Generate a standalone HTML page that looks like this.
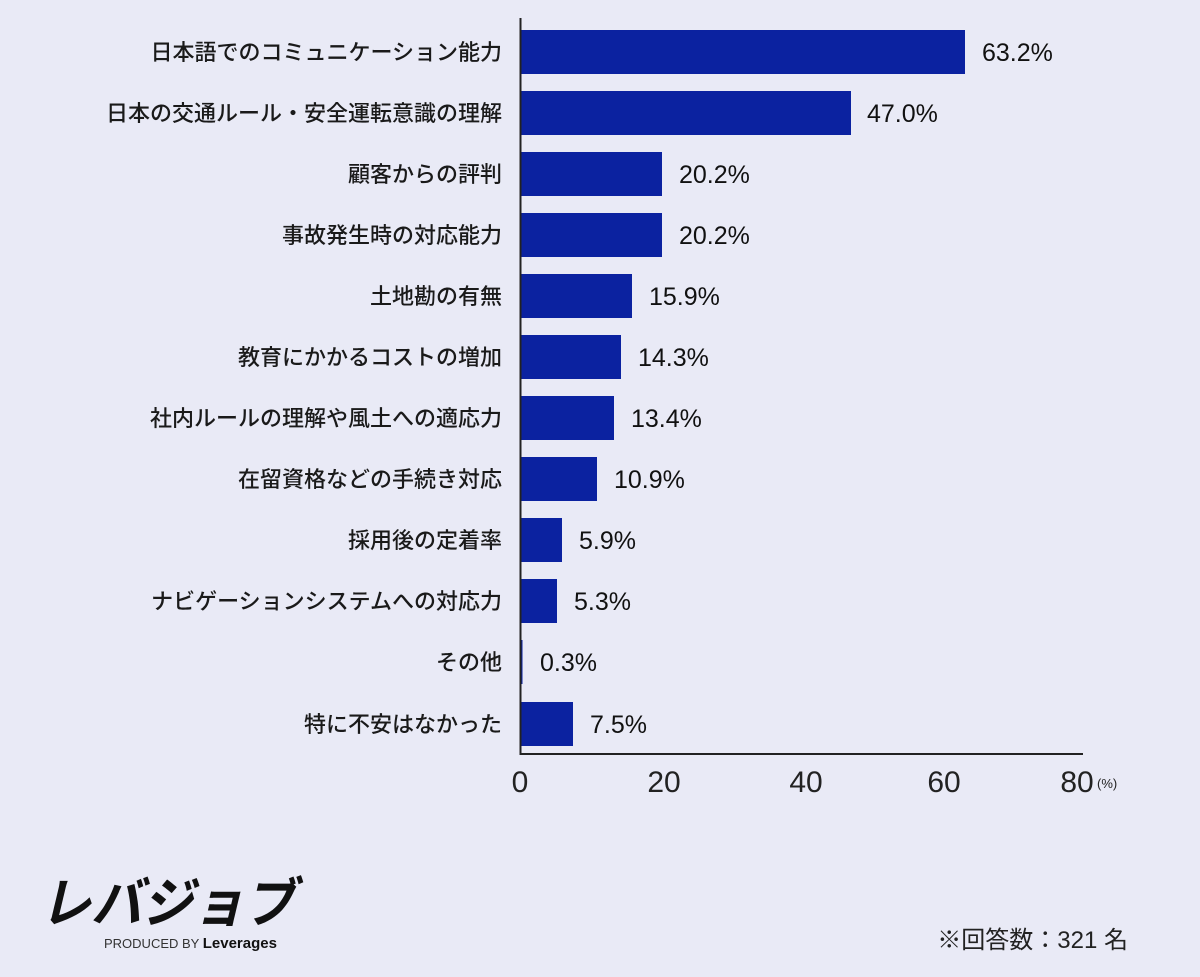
<!DOCTYPE html>
<html><head><meta charset="utf-8"><style>
body{margin:0;background:#e9eaf6;}
svg{display:block;font-family:"Liberation Sans","Noto Sans CJK JP",sans-serif;}
</style></head><body>
<svg width="1200" height="977" viewBox="0 0 1200 977">
<rect width="1200" height="977" fill="#e9eaf6"/>
<g fill="#0b22a0">
<rect x="520" y="30" width="445" height="44"/>
<rect x="520" y="91" width="331" height="44"/>
<rect x="520" y="152" width="142" height="44"/>
<rect x="520" y="213" width="142" height="44"/>
<rect x="520" y="274" width="112" height="44"/>
<rect x="520" y="335" width="101" height="44"/>
<rect x="520" y="396" width="94" height="44"/>
<rect x="520" y="457" width="77" height="44"/>
<rect x="520" y="518" width="42" height="44"/>
<rect x="520" y="579" width="37" height="44"/>
<rect x="520" y="640" width="2.5" height="44"/>
<rect x="520" y="702" width="53" height="44"/>
</g>
<line x1="520.5" y1="18" x2="520.5" y2="754" stroke="#222" stroke-width="2"/>
<line x1="519.5" y1="754" x2="1083" y2="754" stroke="#222" stroke-width="2"/>
<g font-size="22" fill="#1a1a1a" text-anchor="end" font-weight="500">
<text x="502" y="60">日本語でのコミュニケーション能力</text>
<text x="502" y="121">日本の交通ルール・安全運転意識の理解</text>
<text x="502" y="182">顧客からの評判</text>
<text x="502" y="243">事故発生時の対応能力</text>
<text x="502" y="304">土地勘の有無</text>
<text x="502" y="365">教育にかかるコストの増加</text>
<text x="502" y="426">社内ルールの理解や風土への適応力</text>
<text x="502" y="487">在留資格などの手続き対応</text>
<text x="502" y="548">採用後の定着率</text>
<text x="502" y="609">ナビゲーションシステムへの対応力</text>
<text x="502" y="670">その他</text>
<text x="502" y="732">特に不安はなかった</text>
</g>
<g font-size="25" fill="#111">
<text x="982" y="61">63.2%</text>
<text x="867" y="122">47.0%</text>
<text x="679" y="183">20.2%</text>
<text x="679" y="244">20.2%</text>
<text x="649" y="305">15.9%</text>
<text x="638" y="366">14.3%</text>
<text x="631" y="427">13.4%</text>
<text x="614" y="488">10.9%</text>
<text x="579" y="549">5.9%</text>
<text x="574" y="610">5.3%</text>
<text x="540" y="671">0.3%</text>
<text x="590" y="733">7.5%</text>
</g>
<g font-size="30" fill="#222" text-anchor="middle">
<text x="520" y="792">0</text>
<text x="664" y="792">20</text>
<text x="806" y="792">40</text>
<text x="944" y="792">60</text>
<text x="1077" y="792">80</text>
</g>
<text x="1097" y="788" font-size="13" fill="#222">(%)</text>
<text x="40" y="922" font-size="54" font-weight="bold" font-style="italic" fill="#111" textLength="255" lengthAdjust="spacingAndGlyphs">レバジョブ</text>
<text x="104" y="948" font-size="13" fill="#333">PRODUCED BY <tspan font-weight="bold" font-size="15" fill="#111">Leverages</tspan></text>
<text x="1128" y="948" font-size="24" fill="#222" text-anchor="end">※回答数：321 名</text>
</svg>
</body></html>
